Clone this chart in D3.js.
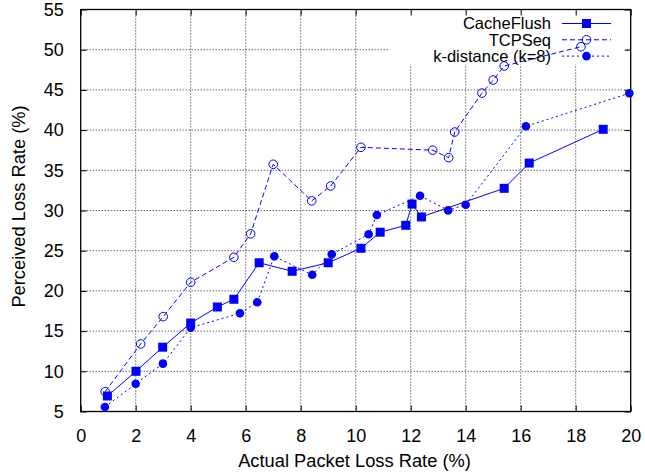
<!DOCTYPE html>
<html>
<head>
<meta charset="utf-8">
<script src="https://d3js.org/d3.v7.min.js"></script>
<style>
  body { margin: 0; background: #fff; }
  svg { font-family: "Liberation Sans", Arial, sans-serif; }
  .tick text { font-size: 18px; fill: #000; }
</style>
</head>
<body>
<svg id="chart" width="645" height="474"></svg>
<script>
// values
var cacheX = [0.97, 2.01, 2.98, 4.0, 4.97, 5.57, 6.49, 7.69, 9.0, 10.19, 10.89, 11.82, 12.05, 12.39, 15.4, 16.31, 19.0];
var cacheY = [6.93, 10.0, 13.0, 16.0, 18.0, 18.96, 23.5, 22.44, 23.5, 25.3, 27.3, 28.16, 30.8, 29.2, 32.76, 35.9, 40.1];

var tcpX = [0.89, 2.18, 3.0, 4.0, 5.57, 6.18, 7.0, 8.4, 9.09, 10.19, 12.8, 13.38, 13.6, 14.59, 15.0, 15.4, 18.19];
var tcpY = [7.46, 13.4, 16.8, 21.07, 24.18, 27.1, 35.75, 31.2, 33.05, 37.86, 37.5, 36.57, 39.76, 44.6, 46.23, 47.97, 50.37];

var kdX = [0.88, 2.0, 2.99, 4.0, 5.79, 6.42, 7.04, 8.42, 9.13, 10.47, 10.77, 12.34, 13.36, 14.0, 16.19, 19.95];
var kdY = [5.56, 8.46, 10.95, 15.42, 17.21, 18.58, 24.3, 22.0, 24.55, 27.04, 29.44, 31.84, 30.02, 30.72, 40.47, 44.58];

var seriesNames = ["CacheFlush", "TCPSeq", "k-distance (k=8)"];
var xTicks = [0, 2, 4, 6, 8, 10, 12, 14, 16, 18, 20];
var yTicks = [5, 10, 15, 20, 25, 30, 35, 40, 45, 50, 55];

var blue = "#0000ff";

var svg = d3.select("#chart");
var plotLeft = 80.7, plotRight = 630.7, plotTop = 9.5, plotBottom = 411.5;

var x = d3.scaleLinear().domain([0, 20]).range([plotLeft, plotRight]);
var y = d3.scaleLinear().domain([5, 55]).range([plotBottom, plotTop]);

// grid
var grid = svg.append("g").attr("stroke", "#222").attr("stroke-width", 1).attr("stroke-dasharray", "1,2");
grid.selectAll(".gx").data(xTicks.slice(1, -1)).enter().append("line")
    .attr("x1", d => x(d)).attr("x2", d => x(d))
    .attr("y1", plotTop).attr("y2", plotBottom);
grid.selectAll(".gy").data(yTicks.slice(1, -1)).enter().append("line")
    .attr("y1", d => y(d)).attr("y2", d => y(d))
    .attr("x1", plotLeft).attr("x2", plotRight);

// opaque key box
svg.append("rect")
    .attr("x", 390).attr("y", plotTop + 1)
    .attr("width", 235).attr("height", 54)
    .attr("fill", "#fff");

// axes, ticks pointing inward like gnuplot
svg.append("g")
    .attr("transform", "translate(0," + plotBottom + ")")
    .call(d3.axisBottom(x).tickValues(xTicks).tickSize(-6).tickPadding(18));
svg.append("g")
    .attr("transform", "translate(" + plotLeft + ",0)")
    .call(d3.axisLeft(y).tickValues(yTicks).tickSize(-6).tickPadding(17));
svg.append("g")
    .attr("transform", "translate(0," + plotTop + ")")
    .call(d3.axisTop(x).tickValues(xTicks).tickSize(-6).tickFormat(""));
svg.append("g")
    .attr("transform", "translate(" + plotRight + ",0)")
    .call(d3.axisRight(y).tickValues(yTicks).tickSize(-6).tickFormat(""));

svg.selectAll(".domain").remove();
svg.selectAll(".tick line").attr("stroke", "#000");
svg.selectAll(".tick text").attr("font-family", "Liberation Sans, Arial, sans-serif");

// border
svg.append("rect")
    .attr("x", plotLeft).attr("y", plotTop)
    .attr("width", plotRight - plotLeft).attr("height", plotBottom - plotTop)
    .attr("fill", "none").attr("stroke", "#000").attr("stroke-width", 1.3);

// axis titles
svg.append("text")
    .attr("x", 354.5).attr("y", 467)
    .attr("text-anchor", "middle").attr("font-size", 18.3)
    .text("Actual Packet Loss Rate (%)");
svg.append("text")
    .attr("transform", "translate(25,206.5) rotate(-90)")
    .attr("text-anchor", "middle").attr("font-size", 18.3)
    .text("Perceived Loss Rate (%)");

var line = d3.line().x(d => x(d[0])).y(d => y(d[1]));

function drawSeries(xs, ys, dash, marker) {
    var pts = xs.map((v, i) => [v, ys[i]]);
    svg.append("path")
        .attr("d", line(pts))
        .attr("fill", "none").attr("stroke", blue).attr("stroke-width", 1)
        .attr("stroke-dasharray", dash);
    pts.forEach(p => marker(x(p[0]), y(p[1])));
}

function square(cx, cy) {
    svg.append("rect").attr("x", cx - 4.5).attr("y", cy - 4.5)
        .attr("width", 9).attr("height", 9).attr("fill", blue);
}
function openCircle(cx, cy) {
    svg.append("circle").attr("cx", cx).attr("cy", cy).attr("r", 4.3)
        .attr("fill", "none").attr("stroke", blue).attr("stroke-width", 1);
}
function dot(cx, cy) {
    svg.append("circle").attr("cx", cx).attr("cy", cy).attr("r", 4.3).attr("fill", blue);
}

drawSeries(cacheX, cacheY, null, square);
drawSeries(tcpX, tcpY, "5,3", openCircle);
drawSeries(kdX, kdY, "2,3", dot);

// legend
var dashes = [null, "5,3", "2,3"];
var markers = [square, openCircle, dot];
seriesNames.forEach(function(name, i) {
    var ly = 23.5 + i * 16.3;
    svg.append("text")
        .attr("x", 551).attr("y", ly).attr("dy", "0.35em")
        .attr("text-anchor", "end").attr("font-size", 16.5)
        .text(name);
    svg.append("line")
        .attr("x1", 562).attr("x2", 611).attr("y1", ly).attr("y2", ly)
        .attr("stroke", blue).attr("stroke-width", 1)
        .attr("stroke-dasharray", dashes[i]);
    markers[i](586.5, ly);
});
</script>
</body>
</html>
